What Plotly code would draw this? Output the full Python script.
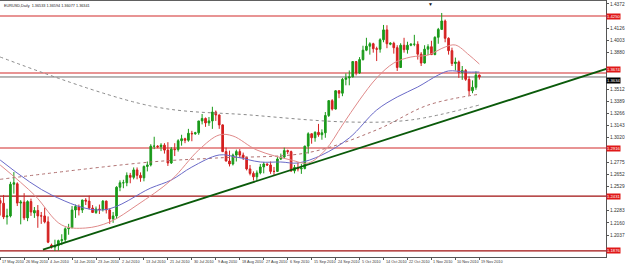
import plotly.graph_objects as go

# ---------------- data ----------------
open_ = [1.2385,1.2358,1.2220,1.2230,1.2550,1.2555,1.2360,1.2370,1.2210,1.2375,
         1.2260,1.2285,1.2230,1.2230,1.2170,1.1935,1.1915,1.1930,1.1980,1.1990,
         1.2100,1.2110,1.2290,1.2325,1.2290,1.2390,1.2380,1.2310,1.2265,1.2300,
         1.2295,1.2380,1.2290,1.2200,1.2230,1.2520,1.2565,1.2565,1.2640,1.2620,
         1.2695,1.2640,1.2615,1.2730,1.2745,1.2935,1.2935,1.2930,1.2945,1.2895,
         1.2765,1.2905,1.2900,1.2990,1.3010,1.2995,1.3065,1.3060,1.3070,1.3190,
         1.3215,1.3170,1.3190,1.3280,1.3250,1.3150,1.2880,1.2785,1.2755,1.2845,
         1.2880,1.2845,1.2820,1.2705,1.2660,1.2625,1.2665,1.2725,1.2755,1.2745,
         1.2680,1.2680,1.2805,1.2825,1.2890,1.2880,1.2685,1.2720,1.2705,1.2710,
         1.2935,1.3060,1.3020,1.3075,1.3050,1.3070,1.3245,1.3395,1.3310,1.3495,
         1.3470,1.3610,1.3625,1.3635,1.3790,1.3675,1.3810,1.3905,1.3945,1.3970,
         1.3920,1.3915,1.4010,1.4110,1.3965,1.3975,1.3930,1.3730,1.3955,1.3910,
         1.3955,1.3965,1.3965,1.3865,1.3775,1.3915,1.3940,1.3860,1.4035,1.4115,
         1.4200,1.4025,1.3900,1.3770,1.3785,1.3680,1.3700,1.3610,1.3495,1.3530,
         1.36533]
high = [1.2414,1.2442,1.2303,1.2575,1.2673,1.2570,1.2390,1.2460,1.2388,1.2405,
        1.2320,1.2340,1.2270,1.2315,1.2225,1.1950,1.1990,1.1990,1.2045,1.2115,
        1.2150,1.2330,1.2345,1.2345,1.2395,1.2410,1.2435,1.2340,1.2325,1.2345,
        1.2390,1.2385,1.2305,1.2270,1.2530,1.2590,1.2595,1.2670,1.2665,1.2720,
        1.2720,1.2670,1.2740,1.2780,1.2955,1.3030,1.2945,1.2965,1.2965,1.2975,
        1.2925,1.2965,1.3005,1.3050,1.3020,1.3110,1.3090,1.3080,1.3190,1.3260,
        1.3225,1.3230,1.3333,1.3295,1.3255,1.3155,1.2920,1.2890,1.2860,1.2900,
        1.2905,1.2870,1.2830,1.2745,1.2680,1.2690,1.2755,1.2775,1.2760,1.2780,
        1.2725,1.2825,1.2860,1.2920,1.2900,1.2890,1.2745,1.2770,1.2755,1.2940,
        1.3075,1.3065,1.3085,1.3160,1.3105,1.3280,1.3400,1.3410,1.3500,1.3500,
        1.3625,1.3670,1.3700,1.3795,1.3795,1.3835,1.3950,1.4030,1.3985,1.3980,
        1.3940,1.4025,1.4160,1.4157,1.3985,1.3990,1.3955,1.3975,1.4030,1.3990,
        1.3975,1.4060,1.3995,1.3885,1.3955,1.3965,1.4000,1.4045,1.4130,1.4281,
        1.4215,1.4035,1.3930,1.3830,1.3800,1.3745,1.3715,1.3640,1.3600,1.3690,
        1.36594]
low = [1.2234,1.2198,1.2143,1.2215,1.2455,1.2330,1.2145,1.2188,1.2177,1.2230,
       1.2210,1.2110,1.2150,1.2155,1.1955,1.1900,1.1876,1.1880,1.1935,1.1960,
       1.2040,1.2110,1.2210,1.2235,1.2260,1.2340,1.2295,1.2260,1.2250,1.2250,
       1.2275,1.2255,1.2150,1.2160,1.2200,1.2480,1.2510,1.2530,1.2560,1.2600,
       1.2600,1.2575,1.2580,1.2680,1.2730,1.2905,1.2915,1.2885,1.2860,1.2735,
       1.2755,1.2835,1.2880,1.2940,1.2965,1.2980,1.2985,1.3050,1.3050,1.3155,
       1.3130,1.3140,1.3110,1.3190,1.3110,1.2875,1.2780,1.2730,1.2740,1.2780,
       1.2815,1.2795,1.2690,1.2640,1.2588,1.2585,1.2650,1.2660,1.2735,1.2655,
       1.2640,1.2675,1.2795,1.2810,1.2855,1.2675,1.2660,1.2680,1.2655,1.2700,
       1.2860,1.2960,1.2980,1.3030,1.3000,1.3020,1.3230,1.3295,1.3305,1.3420,
       1.3440,1.3550,1.3550,1.3630,1.3650,1.3665,1.3800,1.3895,1.3860,1.3880,
       1.3795,1.3880,1.3985,1.3925,1.3955,1.3870,1.3695,1.3725,1.3880,1.3870,
       1.3945,1.3945,1.3810,1.3745,1.3770,1.3855,1.3860,1.3855,1.3970,1.4110,
       1.3985,1.3860,1.3745,1.3700,1.3625,1.3605,1.3595,1.3445,1.3470,1.3505,
       1.36077]
close = [1.2358,1.2220,1.2230,1.2550,1.2565,1.2360,1.2370,1.2210,1.2375,1.2270,
         1.2285,1.2230,1.2230,1.2170,1.1965,1.1915,1.1930,1.1980,1.1990,1.2100,
         1.2110,1.2290,1.2325,1.2290,1.2390,1.2380,1.2310,1.2265,1.2300,1.2295,
         1.2380,1.2290,1.2200,1.2230,1.2520,1.2565,1.2565,1.2640,1.2620,1.2695,
         1.2640,1.2615,1.2730,1.2745,1.2935,1.2935,1.2930,1.2945,1.2895,1.2765,
         1.2905,1.2900,1.2990,1.3010,1.2995,1.3065,1.3060,1.3070,1.3190,1.3215,
         1.3170,1.3190,1.3280,1.3250,1.3150,1.2880,1.2785,1.2755,1.2845,1.2880,
         1.2845,1.2820,1.2705,1.2660,1.2625,1.2665,1.2725,1.2755,1.2745,1.2680,
         1.2680,1.2805,1.2825,1.2890,1.2880,1.2685,1.2720,1.2705,1.2710,1.2935,
         1.3060,1.3020,1.3075,1.3050,1.3070,1.3245,1.3395,1.3310,1.3495,1.3470,
         1.3610,1.3625,1.3635,1.3790,1.3675,1.3810,1.3905,1.3945,1.3970,1.3920,
         1.3915,1.4010,1.4110,1.3970,1.3975,1.3930,1.3730,1.3955,1.3910,1.3955,
         1.3965,1.3965,1.3865,1.3775,1.3915,1.3940,1.3860,1.4035,1.4115,1.4200,
         1.4025,1.3900,1.3770,1.3785,1.3680,1.3700,1.3610,1.3495,1.3530,1.3655,
         1.36341]

date_labels = ["17 May 2010","26 May 2010","4 Jun 2010","14 Jun 2010","23 Jun 2010",
               "2 Jul 2010","13 Jul 2010","21 Jul 2010","30 Jul 2010","9 Aug 2010",
               "18 Aug 2010","27 Aug 2010","6 Sep 2010","15 Sep 2010","24 Sep 2010",
               "5 Oct 2010","14 Oct 2010","22 Oct 2010","1 Nov 2010","10 Nov 2010",
               "19 Nov 2010"]
label_step = 7

# moving averages (bar index, price)
fast_ma_idx = [0,10,18,25,32,40,50,58,64,68,75,85,90,95,100,105,110,115,120,125,130,133,137,140]
fast_ma_val = [1.2745,1.2442,1.2138,1.2108,1.2169,1.2340,1.2593,1.2896,1.3048,1.3038,1.2896,
               1.2795,1.2765,1.2896,1.3149,1.3402,1.3624,1.3775,1.3836,1.3856,1.3937,1.3957,
               1.3856,1.3765]
mid_ma_idx = [0,15,30,44,50,56,64,69,76,82,87,94,102,110,116,122,128,131,136,140]
mid_ma_val = [1.2795,1.2442,1.2290,1.2512,1.2593,1.2724,1.2846,1.2825,1.2775,1.2775,1.2765,
              1.2846,1.3018,1.3300,1.3432,1.3533,1.3654,1.3695,1.3684,1.3684]
slow_ma_idx = [0,44,73,102,120,140]
slow_ma_val = [1.3836,1.3341,1.3250,1.3179,1.3200,1.3351]
brown_ma_idx = [0,44,63,90,110,125,140]
brown_ma_val = [1.2600,1.2775,1.2815,1.2870,1.3100,1.3350,1.3460]

trend_idx = [12.5, 177.5]
trend_val = [1.1890, 1.3720]

levels_light = [1.4250, 1.3674, 1.2916]
levels_dark = [1.2431, 1.1876]
bid = 1.36341

y_ticks = [1.4372,1.4126,1.4003,1.3880,1.3512,1.3389,1.3266,1.3143,1.3020,
           1.2775,1.2652,1.2529,1.2283,1.2160,1.2037]

title_text = "EURUSD,Daily  1.36533 1.36594 1.36077 1.36341"

# ---------------- figure ----------------
idx = list(range(len(close)))
fig = go.Figure()

for lv in levels_light:
    fig.add_shape(type="line", xref="paper", x0=0, x1=1, y0=lv, y1=lv,
                  line=dict(color="#e07070", width=1.6), layer="below")
for lv in levels_dark:
    fig.add_shape(type="line", xref="paper", x0=0, x1=1, y0=lv, y1=lv,
                  line=dict(color="#a01010", width=1.3), layer="below")
fig.add_shape(type="line", xref="paper", x0=0, x1=1, y0=bid, y1=bid,
              line=dict(color="#707070", width=1), layer="below")

fig.add_trace(go.Scatter(x=slow_ma_idx, y=slow_ma_val, mode="lines",
                         line=dict(color="#8a8a8a", width=1, dash="dot"), line_shape="spline",
                         hoverinfo="skip"))
fig.add_trace(go.Scatter(x=brown_ma_idx, y=brown_ma_val, mode="lines",
                         line=dict(color="#b07070", width=1, dash="dot"), line_shape="spline",
                         hoverinfo="skip"))
fig.add_trace(go.Scatter(x=mid_ma_idx, y=mid_ma_val, mode="lines",
                         line=dict(color="#6a6ac8", width=1), line_shape="spline",
                         hoverinfo="skip"))
fig.add_trace(go.Scatter(x=fast_ma_idx, y=fast_ma_val, mode="lines",
                         line=dict(color="#e08a8a", width=1), line_shape="spline",
                         hoverinfo="skip"))

fig.add_trace(go.Candlestick(
    x=idx, open=open_, high=high, low=low, close=close,
    increasing=dict(line=dict(color="#1a9a1a", width=1), fillcolor="#1a9a1a"),
    decreasing=dict(line=dict(color="#d42020", width=1), fillcolor="#d42020"),
    whiskerwidth=0, hoverinfo="skip"))

fig.add_trace(go.Scatter(x=trend_idx, y=trend_val, mode="lines",
                         line=dict(color="#0a5a0a", width=1.8), hoverinfo="skip"))

tag_font = dict(color="white", size=4.2, family="Liberation Sans")
for lv in levels_light + levels_dark:
    fig.add_annotation(x=1, xref="paper", y=lv, yref="y", text=f"{lv:.4f}",
                       xanchor="left", yanchor="bottom" if lv == levels_light[1] else "middle",
                       showarrow=False, bgcolor="#e01818", font=tag_font, borderpad=0)
fig.add_annotation(x=1, xref="paper", y=bid, yref="y", text=f"{bid:.4f}",
                   xanchor="left", yanchor="top", showarrow=False,
                   bgcolor="#000000", font=tag_font, borderpad=0)

for k, lab in enumerate(date_labels):
    fig.add_annotation(x=k * label_step, xref="x", y=0, yref="paper", yshift=-1,
                       text=lab, xanchor="left", yanchor="top", showarrow=False,
                       font=dict(size=3.8, color="#333333", family="Liberation Sans"))

fig.add_annotation(x=0, xref="paper", y=1, yref="paper", yshift=-2, xshift=2,
                   text=title_text, xanchor="left", yanchor="top", showarrow=False,
                   font=dict(size=3.8, color="#222222", family="Liberation Sans"))

fig.add_annotation(x=0.711, xref="paper", y=1, yref="paper", yshift=1,
                   text="▼", xanchor="center", yanchor="top", showarrow=False,
                   font=dict(size=5, color="#111111"))

fig.add_shape(type="line", xref="paper", yref="paper", x0=0, x1=1, y0=1, y1=1,
              line=dict(color="#606060", width=2))

fig.update_layout(
    width=625, height=265,
    margin=dict(l=0, r=13, t=0, b=8),
    paper_bgcolor="white", plot_bgcolor="white",
    showlegend=False,
    xaxis=dict(range=[-0.05, 177], showgrid=False, zeroline=False,
               rangeslider=dict(visible=False),
               tickvals=[k * label_step for k in range(len(date_labels))],
               showticklabels=False, ticks="outside", ticklen=2, tickcolor="#555",
               showline=True, linecolor="#555", linewidth=1),
    yaxis=dict(range=[1.1815, 1.4412], side="right", showgrid=False, zeroline=False,
               tickvals=y_ticks, ticktext=[f"{v:.4f}" for v in y_ticks],
               ticks="outside", ticklen=2, tickcolor="#555",
               tickfont=dict(size=4.8, color="#333", family="Liberation Sans"),
               showline=True, linecolor="#555", linewidth=1),
)

fig.write_html("out.html")
